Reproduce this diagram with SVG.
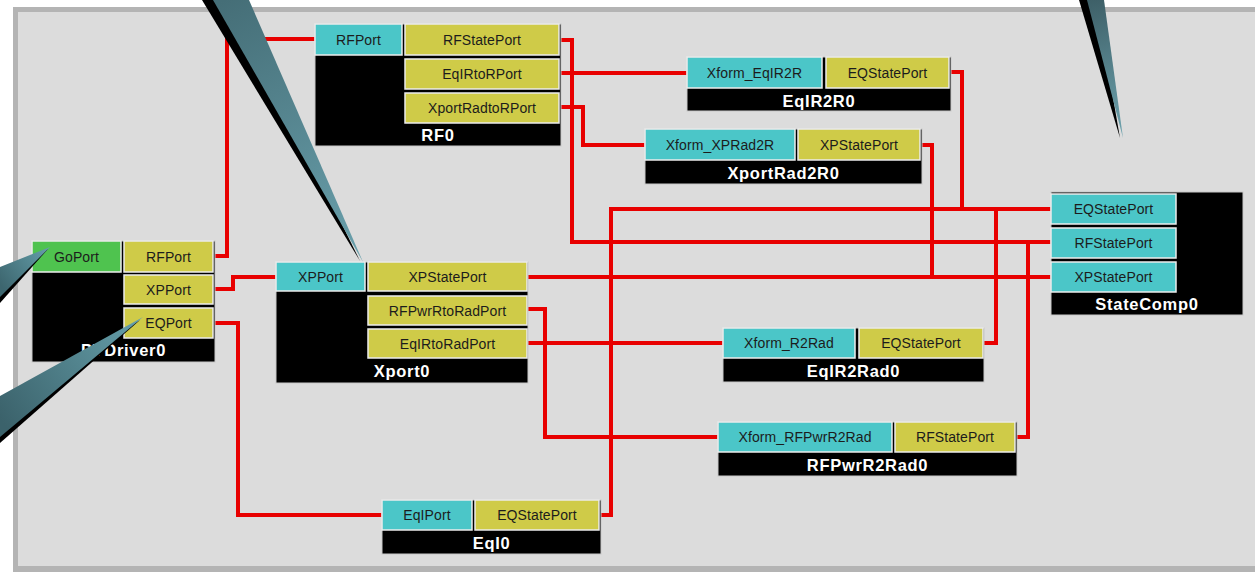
<svg xmlns="http://www.w3.org/2000/svg" width="1255" height="572" viewBox="0 0 1255 572">
  <style>
    .body { fill: #000; stroke: #c8c8c8; stroke-width: 1; }
    .port { stroke: #ececec; stroke-width: 1.5; }
    .in { fill: #4bc6c8; }
    .out { fill: #cfcb48; }
    .go { fill: #4fc34f; }
    .pt { font-family: "Liberation Sans", Arial, sans-serif; font-size: 14px; letter-spacing: 0.1px; fill: #1c1c1c; text-anchor: middle; }
    .lbl { font-family: "Liberation Sans", Arial, sans-serif; font-size: 16.5px; font-weight: bold; letter-spacing: 0.7px; fill: #fff; text-anchor: middle; }
    .wire { fill: none; stroke: #e80000; stroke-width: 4; stroke-linejoin: miter; stroke-linecap: butt; }
    .shadow { fill: #000; }
  </style>
  <defs>
    <linearGradient id="gA" gradientUnits="userSpaceOnUse" x1="225" y1="0" x2="362" y2="262">
      <stop offset="0" stop-color="#456e77"/>
      <stop offset="1" stop-color="#6aa1ad"/>
    </linearGradient>
    <linearGradient id="gB" gradientUnits="userSpaceOnUse" x1="1092" y1="0" x2="1122" y2="138">
      <stop offset="0" stop-color="#3e6068"/>
      <stop offset="1" stop-color="#6ea3ae"/>
    </linearGradient>
    <linearGradient id="gC" gradientUnits="userSpaceOnUse" x1="0" y1="284" x2="50" y2="247">
      <stop offset="0" stop-color="#3d666f"/>
      <stop offset="1" stop-color="#65a0ab"/>
    </linearGradient>
    <linearGradient id="gD" gradientUnits="userSpaceOnUse" x1="0" y1="418" x2="143" y2="317">
      <stop offset="0" stop-color="#3b626b"/>
      <stop offset="1" stop-color="#66a0ab"/>
    </linearGradient>
  </defs>

  <!-- canvas and frame -->
  <rect x="0" y="0" width="1255" height="572" fill="#ffffff"/>
  <rect x="13" y="7" width="1260" height="580" fill="#b4b4b4"/>
  <rect x="18" y="12" width="1255" height="554" fill="#dcdcdc"/>

  <!-- connections -->
  <g id="connectors">
    <path class="wire" d="M213,256 H227 V39 H315"/>
    <path class="wire" d="M213,289 H233 V277 H276"/>
    <path class="wire" d="M213,323 H238 V515 H382"/>
    <path class="wire" d="M559,40 H572 V242 H1051"/>
    <path class="wire" d="M559,73 H687"/>
    <path class="wire" d="M559,107 H583 V145 H645"/>
    <path class="wire" d="M949,72 H962 V209"/>
    <path class="wire" d="M599,515 H611 V209 H1051"/>
    <path class="wire" d="M920,145 H932 V276"/>
    <path class="wire" d="M527,277 H1051"/>
    <path class="wire" d="M527,309 H545 V437 H718"/>
    <path class="wire" d="M527,343 H723"/>
    <path class="wire" d="M983,343 H996 V209"/>
    <path class="wire" d="M1015,437 H1028 V242"/>
  </g>

  <g id="PYDriver0">
    <rect class="body" x="32" y="241" width="183" height="121"/>
    <rect class="port go" x="32" y="241" width="89" height="31"/>
    <text class="pt" x="76.5" y="261.5">GoPort</text>
    <rect class="port out" x="124" y="241" width="89" height="31"/>
    <text class="pt" x="168.5" y="261.5">RFPort</text>
    <rect class="port out" x="124" y="275" width="89" height="29"/>
    <text class="pt" x="168.5" y="294.5">XPPort</text>
    <rect class="port out" x="124" y="308" width="89" height="30"/>
    <text class="pt" x="168.5" y="328">EQPort</text>
    <text class="lbl" x="123.5" y="356">PYDriver0</text>
  </g>

  <g id="RF0">
    <rect class="body" x="315" y="24" width="246" height="122"/>
    <rect class="port in" x="315" y="24" width="87" height="31"/>
    <text class="pt" x="358.5" y="44.5">RFPort</text>
    <rect class="port out" x="405" y="24" width="154" height="31"/>
    <text class="pt" x="482" y="44.5">RFStatePort</text>
    <rect class="port out" x="405" y="59" width="154" height="30"/>
    <text class="pt" x="482" y="79">EqIRtoRPort</text>
    <rect class="port out" x="405" y="93" width="154" height="30"/>
    <text class="pt" x="482" y="113">XportRadtoRPort</text>
    <text class="lbl" x="438" y="141">RF0</text>
  </g>

  <g id="Xport0">
    <rect class="body" x="276" y="262" width="252" height="121"/>
    <rect class="port in" x="276" y="262" width="89" height="29"/>
    <text class="pt" x="320.5" y="281.5">XPPort</text>
    <rect class="port out" x="368" y="262" width="159" height="29"/>
    <text class="pt" x="447.5" y="281.5">XPStatePort</text>
    <rect class="port out" x="368" y="296" width="159" height="29"/>
    <text class="pt" x="447.5" y="315.5">RFPwrRtoRadPort</text>
    <rect class="port out" x="368" y="329" width="159" height="29"/>
    <text class="pt" x="447.5" y="348.5">EqIRtoRadPort</text>
    <text class="lbl" x="402" y="377">Xport0</text>
  </g>

  <g id="EqIR2R0">
    <rect class="body" x="687" y="57" width="264" height="54"/>
    <rect class="port in" x="687" y="57" width="135" height="31"/>
    <text class="pt" x="754.5" y="77.5">Xform_EqIR2R</text>
    <rect class="port out" x="826" y="57" width="123" height="31"/>
    <text class="pt" x="887.5" y="77.5">EQStatePort</text>
    <text class="lbl" x="819" y="107">EqIR2R0</text>
  </g>

  <g id="XportRad2R0">
    <rect class="body" x="645" y="129" width="277" height="55"/>
    <rect class="port in" x="645" y="129" width="150" height="31"/>
    <text class="pt" x="720" y="149.5">Xform_XPRad2R</text>
    <rect class="port out" x="798" y="129" width="122" height="31"/>
    <text class="pt" x="859" y="149.5">XPStatePort</text>
    <text class="lbl" x="783.5" y="179">XportRad2R0</text>
  </g>

  <g id="StateComp0">
    <rect class="body" x="1051" y="192" width="192" height="123"/>
    <rect class="port in" x="1051" y="194" width="125" height="30"/>
    <text class="pt" x="1113.5" y="214">EQStatePort</text>
    <rect class="port in" x="1051" y="228" width="125" height="30"/>
    <text class="pt" x="1113.5" y="248">RFStatePort</text>
    <rect class="port in" x="1051" y="262" width="125" height="30"/>
    <text class="pt" x="1113.5" y="282">XPStatePort</text>
    <text class="lbl" x="1147" y="310">StateComp0</text>
  </g>

  <g id="EqIR2Rad0">
    <rect class="body" x="723" y="328" width="261" height="54"/>
    <rect class="port in" x="723" y="328" width="132" height="30"/>
    <text class="pt" x="789" y="348">Xform_R2Rad</text>
    <rect class="port out" x="859" y="328" width="124" height="30"/>
    <text class="pt" x="921" y="348">EQStatePort</text>
    <text class="lbl" x="853.5" y="377">EqIR2Rad0</text>
  </g>

  <g id="RFPwrR2Rad0">
    <rect class="body" x="718" y="422" width="299" height="54"/>
    <rect class="port in" x="718" y="422" width="174" height="30"/>
    <text class="pt" x="805" y="442">Xform_RFPwrR2Rad</text>
    <rect class="port out" x="895" y="422" width="120" height="30"/>
    <text class="pt" x="955" y="442">RFStatePort</text>
    <text class="lbl" x="867.5" y="471">RFPwrR2Rad0</text>
  </g>

  <g id="EqI0">
    <rect class="body" x="382" y="500" width="219" height="54"/>
    <rect class="port in" x="382" y="500" width="90" height="30"/>
    <text class="pt" x="427" y="520">EqIPort</text>
    <rect class="port out" x="475" y="500" width="124" height="30"/>
    <text class="pt" x="537" y="520">EQStatePort</text>
    <text class="lbl" x="491.5" y="549">EqI0</text>
  </g>

  <!-- callout pointers laid over the diagram -->
  <g id="pointers">
    <polygon class="shadow" points="202,0 232,0 360,261"/>
    <polygon fill="url(#gA)" points="213,0 249,0 363,262"/>
    <polygon class="shadow" points="1079,0 1096,0 1120,138"/>
    <polygon fill="url(#gB)" points="1087,0 1104,0 1123,138"/>
    <polygon class="shadow" points="0,272 0,303 48,249"/>
    <polygon fill="url(#gC)" points="0,267 0,297 50,247"/>
    <polygon class="shadow" points="0,404 0,443 140,320"/>
    <polygon fill="url(#gD)" points="0,396 0,437 143,317"/>
  </g>
</svg>
